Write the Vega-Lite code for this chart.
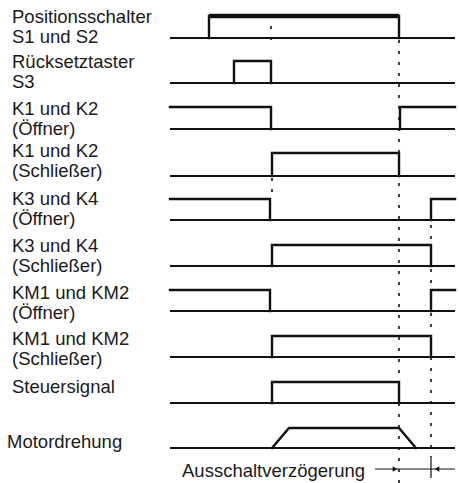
{
  "$schema": "https://vega.github.io/schema/vega-lite/v6.json",
  "width": 459,
  "height": 483,
  "padding": 0,
  "autosize": {"type": "none"},
  "background": "white",
  "config": {"view": {"stroke": null}},
  "datasets": {
    "baselines": [
      {"row": "S1", "x": 170, "x2": 455, "y": 38},
      {"row": "S3", "x": 170, "x2": 455, "y": 83},
      {"row": "K1o", "x": 170, "x2": 455, "y": 129},
      {"row": "K1s", "x": 170, "x2": 455, "y": 176},
      {"row": "K3o", "x": 170, "x2": 455, "y": 220},
      {"row": "K3s", "x": 170, "x2": 455, "y": 266},
      {"row": "KM1o", "x": 170, "x2": 455, "y": 311},
      {"row": "KM1s", "x": 170, "x2": 455, "y": 357},
      {"row": "St", "x": 170, "x2": 455, "y": 403},
      {"row": "Mot", "x": 170, "x2": 455, "y": 448}
    ],
    "signals": [
      {"seg": "S1", "i": 1, "x": 209, "y": 38},
      {"seg": "S1", "i": 2, "x": 209, "y": 16},
      {"seg": "S1", "i": 3, "x": 399, "y": 16},
      {"seg": "S1", "i": 4, "x": 399, "y": 38},
      {"seg": "S3", "i": 1, "x": 234, "y": 83},
      {"seg": "S3", "i": 2, "x": 234, "y": 61},
      {"seg": "S3", "i": 3, "x": 271, "y": 61},
      {"seg": "S3", "i": 4, "x": 271, "y": 83},
      {"seg": "K1o-a", "i": 1, "x": 170, "y": 107},
      {"seg": "K1o-a", "i": 2, "x": 271, "y": 107},
      {"seg": "K1o-a", "i": 3, "x": 271, "y": 129},
      {"seg": "K1o-b", "i": 1, "x": 400, "y": 129},
      {"seg": "K1o-b", "i": 2, "x": 400, "y": 107},
      {"seg": "K1o-b", "i": 3, "x": 455, "y": 107},
      {"seg": "K1s", "i": 1, "x": 272, "y": 176},
      {"seg": "K1s", "i": 2, "x": 272, "y": 153},
      {"seg": "K1s", "i": 3, "x": 399, "y": 153},
      {"seg": "K1s", "i": 4, "x": 399, "y": 176},
      {"seg": "K3o-a", "i": 1, "x": 170, "y": 199},
      {"seg": "K3o-a", "i": 2, "x": 270, "y": 199},
      {"seg": "K3o-a", "i": 3, "x": 270, "y": 220},
      {"seg": "K3o-b", "i": 1, "x": 431, "y": 220},
      {"seg": "K3o-b", "i": 2, "x": 431, "y": 199},
      {"seg": "K3o-b", "i": 3, "x": 455, "y": 199},
      {"seg": "K3s", "i": 1, "x": 272, "y": 266},
      {"seg": "K3s", "i": 2, "x": 272, "y": 245},
      {"seg": "K3s", "i": 3, "x": 431, "y": 245},
      {"seg": "K3s", "i": 4, "x": 431, "y": 266},
      {"seg": "KM1o-a", "i": 1, "x": 170, "y": 290},
      {"seg": "KM1o-a", "i": 2, "x": 270, "y": 290},
      {"seg": "KM1o-a", "i": 3, "x": 270, "y": 311},
      {"seg": "KM1o-b", "i": 1, "x": 431, "y": 311},
      {"seg": "KM1o-b", "i": 2, "x": 431, "y": 290},
      {"seg": "KM1o-b", "i": 3, "x": 455, "y": 290},
      {"seg": "KM1s", "i": 1, "x": 272, "y": 357},
      {"seg": "KM1s", "i": 2, "x": 272, "y": 336},
      {"seg": "KM1s", "i": 3, "x": 431, "y": 336},
      {"seg": "KM1s", "i": 4, "x": 431, "y": 357},
      {"seg": "St", "i": 1, "x": 272, "y": 403},
      {"seg": "St", "i": 2, "x": 272, "y": 382},
      {"seg": "St", "i": 3, "x": 399, "y": 382},
      {"seg": "St", "i": 4, "x": 399, "y": 403},
      {"seg": "Mot", "i": 1, "x": 272, "y": 448},
      {"seg": "Mot", "i": 2, "x": 289, "y": 428},
      {"seg": "Mot", "i": 3, "x": 399, "y": 428},
      {"seg": "Mot", "i": 4, "x": 416, "y": 448}
    ],
    "emphasis": [
      {"x": 209, "x2": 399, "y": 16}
    ],
    "guides": [
      {"x": 271, "y": 26, "y2": 40},
      {"x": 272, "y": 178, "y2": 194},
      {"x": 399, "y": 40, "y2": 483},
      {"x": 431, "y": 214, "y2": 457}
    ],
    "dimension": [
      {"x": 375, "x2": 455, "y": 469}
    ],
    "dimtick": [
      {"x": 431, "y": 457, "y2": 478}
    ],
    "arrows": [
      {"x": 395, "y": 469, "dir": "right"},
      {"x": 437, "y": 469, "dir": "left"}
    ],
    "labels": [
      {"text": "Positionsschalter\nS1 und S2", "x": 12, "y": 23},
      {"text": "Rücksetztaster\nS3", "x": 12, "y": 68},
      {"text": "K1 und K2\n(Öffner)", "x": 12, "y": 115},
      {"text": "K1 und K2\n(Schließer)", "x": 12, "y": 157},
      {"text": "K3 und K4\n(Öffner)", "x": 12, "y": 205},
      {"text": "K3 und K4\n(Schließer)", "x": 12, "y": 252},
      {"text": "KM1 und KM2\n(Öffner)", "x": 12, "y": 299},
      {"text": "KM1 und KM2\n(Schließer)", "x": 12, "y": 345},
      {"text": "Steuersignal", "x": 12, "y": 393},
      {"text": "Motordrehung", "x": 7, "y": 448},
      {"text": "Ausschaltverzögerung", "x": 182, "y": 477}
    ]
  },
  "layer": [
    {
      "data": {"name": "baselines"},
      "mark": {"type": "rule", "color": "#111", "strokeWidth": 2},
      "encoding": {
        "x": {"field": "x", "type": "quantitative", "scale": {"domain": [0, 459], "nice": false, "zero": false}, "axis": null},
        "x2": {"field": "x2"},
        "y": {"field": "y", "type": "quantitative", "scale": {"domain": [0, 483], "reverse": true, "nice": false, "zero": false}, "axis": null}
      }
    },
    {
      "data": {"name": "guides"},
      "mark": {"type": "rule", "color": "#111", "strokeWidth": 1.6, "strokeDash": [3, 8]},
      "encoding": {
        "x": {"field": "x", "type": "quantitative"},
        "y": {"field": "y", "type": "quantitative"},
        "y2": {"field": "y2"}
      }
    },
    {
      "data": {"name": "signals"},
      "mark": {"type": "line", "color": "#111", "strokeWidth": 2.4, "strokeJoin": "miter", "strokeCap": "square"},
      "encoding": {
        "x": {"field": "x", "type": "quantitative"},
        "y": {"field": "y", "type": "quantitative"},
        "detail": {"field": "seg"},
        "order": {"field": "i", "type": "quantitative"}
      }
    },
    {
      "data": {"name": "emphasis"},
      "mark": {"type": "rule", "color": "#111", "strokeWidth": 4.5},
      "encoding": {
        "x": {"field": "x", "type": "quantitative"},
        "x2": {"field": "x2"},
        "y": {"field": "y", "type": "quantitative"}
      }
    },
    {
      "data": {"name": "dimension"},
      "mark": {"type": "rule", "color": "#111", "strokeWidth": 1},
      "encoding": {
        "x": {"field": "x", "type": "quantitative"},
        "x2": {"field": "x2"},
        "y": {"field": "y", "type": "quantitative"}
      }
    },
    {
      "data": {"name": "dimtick"},
      "mark": {"type": "rule", "color": "#111", "strokeWidth": 1.2},
      "encoding": {
        "x": {"field": "x", "type": "quantitative"},
        "y": {"field": "y", "type": "quantitative"},
        "y2": {"field": "y2"}
      }
    },
    {
      "data": {"name": "arrows"},
      "mark": {"type": "point", "filled": true, "color": "#111", "size": 28, "opacity": 1},
      "encoding": {
        "x": {"field": "x", "type": "quantitative"},
        "y": {"field": "y", "type": "quantitative"},
        "shape": {"field": "dir", "type": "nominal", "scale": {"domain": ["right", "left"], "range": ["triangle-right", "triangle-left"]}, "legend": null}
      }
    },
    {
      "data": {"name": "labels"},
      "mark": {"type": "text", "align": "left", "baseline": "alphabetic", "font": "Liberation Sans", "fontSize": 18.5, "lineBreak": "\n", "lineHeight": 20, "color": "#1a1a1a"},
      "encoding": {
        "x": {"field": "x", "type": "quantitative"},
        "y": {"field": "y", "type": "quantitative"},
        "text": {"field": "text"}
      }
    }
  ]
}
